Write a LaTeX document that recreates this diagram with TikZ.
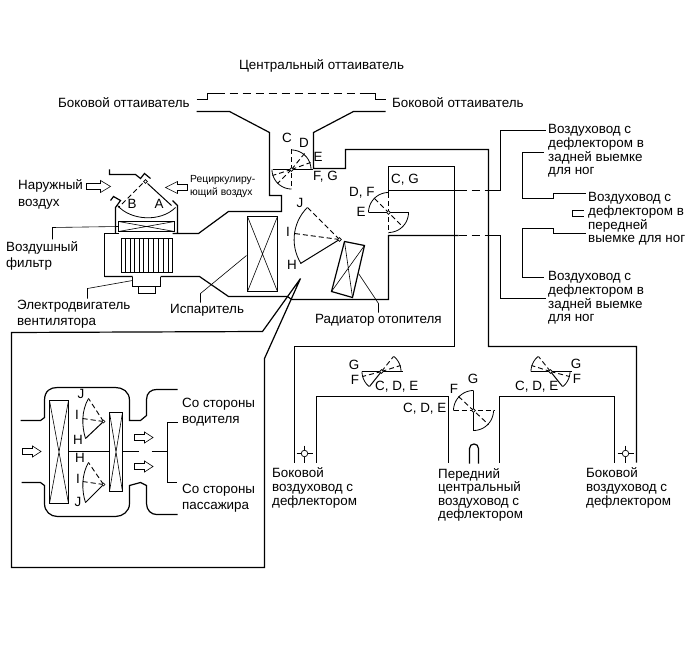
\documentclass[tikz,border=0pt]{standalone}
\usepackage{fontspec}
\setmainfont{Liberation Sans}
\tikzset{
  x=1pt,y=-1pt,
  wall/.style={draw=black,line width=1.2pt,line join=miter},
  thinline/.style={draw=black,line width=0.6pt},
  flap/.style={draw=black,line width=1pt},
  dashflap/.style={draw=black,line width=0.9pt,dash pattern=on 5pt off 3pt},
  duct dash/.style={draw=black,line width=1.2pt,dash pattern=on 8pt off 5pt},
  lbl/.style={inner sep=0pt,anchor=west,align=left,yshift=-1pt,font=\fontsize{13.4}{13.6}\selectfont},
  wide lbl/.style={lbl,font=\fontsize{13.4}{16.2}\selectfont},
  letter/.style={inner sep=0pt,anchor=center,yshift=-0.5pt,font=\fontsize{13.4}{13.6}\selectfont},
  small lbl/.style={inner sep=0pt,anchor=west,align=left,font=\fontsize{10.3}{12.5}\selectfont},
  pivot/.style={draw=black,fill=white,line width=0.7pt,circle,inner sep=0pt,minimum size=3.6pt},
}
% circular damper sweep: centre x, y, radius, start and end angle (clockwise on the page)
\newcommand{\sweep}[5]{\draw[thinline,line width=0.8pt] plot[domain=#4:#5,samples=16] ({#1+#3*cos(\x)},{#2+#3*sin(\x)});}
% outlined flow arrow pointing right from a tail point
\newcommand{\flowright}[2]{\draw[thinline] (#1,#2-3) -- ++(14,0) -- ++(0,-3) -- ++(10,6) -- ++(-10,6) -- ++(0,-3) -- ++(-14,0) -- cycle;}
\newcommand{\flowinset}[2]{\draw[thinline] (#1,#2-3) -- ++(10,0) -- ++(0,-2.5) -- ++(8.5,5.5) -- ++(-8.5,5.5) -- ++(0,-2.5) -- ++(-10,0) -- cycle;}
\begin{document}
\begin{tikzpicture}
\useasboundingbox (0,0) rectangle (690,660);
\fill[white] (0,0) rectangle (690,660);
\begin{scope}[shift={(0.5,0.5)}]

% ---- defroster outlets ----
\draw[wall] (196,99) -- (207,99) -- (207,93) -- (216,93);
\draw[duct dash] (216,93) -- (368,93);
\draw[wall] (367,93) -- (375,93) -- (375,99) -- (385,99);
\draw[wall] (196,111) -- (229,111) -- (269,132) -- (269,195) -- (281,195) -- (281,211) -- (228,211) -- (198,233) -- (172,233) (177,233) -- (177,205) -- (172,200);
\draw[wall] (385,111) -- (353,111) -- (313,132) -- (313,168) -- (345,168) -- (345,149) -- (488,149) -- (488,346) -- (636,346) -- (636,462);
\draw[wall] (388,195) -- (388,166) -- (454,166) -- (454,346) -- (294,346) -- (294,462);
\draw[wall] (316,462) -- (316,396) -- (448,396) -- (448,462);
\draw[wall] (499,462) -- (499,396) -- (614,396) -- (614,462);
\draw[wall] (104,276) -- (132,276) (160,276) -- (199,276) -- (228,296) -- (287,296) -- (291,299) -- (388,299) -- (388,235) -- (458,235);

% ---- floor duct branches ----
\draw[wall] (388,190) -- (458,190);
\draw[duct dash] (458,190) -- (488,190);
\draw[wall] (488,190) -- (500,190) -- (500,130) -- (545,130);
\draw[duct dash] (458,235) -- (488,235);
\draw[wall] (488,235) -- (500,235) -- (500,298) -- (545,298);
\draw[wall] (543,152) -- (522,152) -- (522,198) -- (553,198) -- (553,193) -- (585,193);
\draw[wall] (585,233) -- (553,233) -- (553,228) -- (522,228) -- (522,277) -- (543,277);
\draw[wall] (583,210) -- (572,210) -- (572,216) -- (583,216);

% ---- intake, filter and blower ----
\draw[wall] (109,169) -- (109,174) -- (135,174) -- (140,178) -- (144,173) -- (150,178);
\draw[wall] (110,200) -- (113,196) -- (120,200) -- (115,207) -- (115,233);
\draw[wall] (104,233) -- (118,233) (104,233) -- (104,276);
\draw[flap] (147,183) -- (171,205);
\draw[dashflap] (142,183) -- (118,207);
\draw[thinline,line width=0.8pt] (117,205) .. controls (130,220) and (160,222) .. (175,207);
\node[pivot] (intake) at (145,181) {};
\draw[wall] (118,221) rectangle (174,231);
\draw[thinline] (118,221) -- (174,231) (118,231) -- (174,221);
\draw[wall] (121,238) rectangle (172,272);
\foreach \v in {125,129.5,134,138.5,143,148,153,158,163,168}
  \draw[thinline] (\v,238) -- (\v,272);
\draw[wall] (132,276) -- (132,286) -- (138,286) -- (138,293) -- (155,293) -- (155,286) -- (160,286) -- (160,276);
\draw[wall] (132,286) -- (160,286);
\flowright{86}{186}
\draw[thinline] (187,184) -- (177,184) -- (177,181) -- (165,187) -- (177,193) -- (177,190) -- (187,190) -- cycle;

% ---- evaporator and heater core ----
\draw[wall] (247,216) rectangle (277,291);
\draw[thinline] (247,216) -- (277,291) (277,216) -- (247,291);
\draw[wall] (344,241) -- (364,245) -- (352,297) -- (331,291) -- cycle;
\draw[thinline] (344,241) -- (352,297) (364,245) -- (331,291);

% ---- leader lines ----
\draw[thinline] (52,239) -- (52,227) -- (118,226);
\draw[thinline] (87,298) -- (87,288) -- (132,280);
\draw[thinline] (200,302) -- (200,293) -- (246,255);
\draw[thinline] (358,273) -- (378,303) -- (378,312);

% ---- air mix damper ----
\draw[flap] (339,239) -- (300,263);
\draw[dashflap] (339,239) -- (307,207);
\draw[dashflap] (339,239) -- (294,233);
\sweep{339}{239}{45.4}{148}{225}
\node[pivot] (mix) at (339,239) {};

% ---- defroster damper ----
\draw[flap] (272,169) -- (312,169);
\draw[dashflap] (291,149) -- (291,188);
\draw[dashflap] (291,169) -- (304,153);
\draw[dashflap] (291,169) -- (310,162);
\draw[dashflap] (291,169) -- (272,175);
\draw[dashflap] (291,169) -- (277,183);
\sweep{291}{169}{19.5}{270}{360}
\sweep{291}{169}{19.5}{90}{180}
\node[pivot] (defrost) at (291,169) {};

% ---- foot damper ----
\draw[flap] (368,212) -- (408,212);
\draw[dashflap] (388,193) -- (388,233);
\draw[dashflap] (374,198) -- (402,226);
\sweep{388}{212}{20}{180}{270}
\sweep{388}{212}{20}{0}{90}
\node[pivot] (foot) at (388,212) {};

% ---- centre vent damper ----
\draw[flap] (473,390) -- (473,430);
\draw[dashflap] (453,410) -- (494,410);
\draw[dashflap] (458,396) -- (488,424);
\sweep{473}{410}{20}{180}{270}
\sweep{473}{410}{20}{0}{90}
\node[pivot] (centre) at (473,410) {};

% ---- side vent dampers ----
\draw[flap] (361,371) -- (402,371);
\draw[dashflap] (381,371) -- (393,356);
\draw[dashflap] (381,371) -- (400,365);
\draw[dashflap] (381,371) -- (362,376);
\draw[flap] (381,371) -- (369,386);
\sweep{381}{371}{19.5}{-50}{0}
\sweep{381}{371}{19.5}{130}{180}
\node[pivot] (sideL) at (381,371) {};
\draw[flap] (530,371) -- (571,371);
\draw[dashflap] (550,371) -- (538,356);
\draw[dashflap] (550,371) -- (531,365);
\draw[dashflap] (550,371) -- (569,376);
\draw[flap] (550,371) -- (562,386);
\sweep{550}{371}{19.5}{180}{230}
\sweep{550}{371}{19.5}{0}{50}
\node[pivot] (sideR) at (550,371) {};

% ---- vent outlets ----
\draw[thinline,line width=0.9pt] (296,453) -- (312,453) (304,445) -- (304,462);
\node[pivot,minimum size=6.5pt] (ventL) at (304,453) {};
\draw[thinline,line width=0.9pt] (617,453) -- (633,453) (625,445) -- (625,462);
\node[pivot,minimum size=6.5pt] (ventR) at (625,453) {};
\draw[wall] (469,463) -- (469,448) .. controls (469,442) and (478,442) .. (478,448) -- (478,463);

% ---- enlarged view ----
\draw[wall] (300,278) -- (262,331) -- (11,332) -- (11,567) -- (264,567) -- (264,358) -- (300,278);
\draw[wall] (20,420) -- (40,420) -- (44,417) -- (44,400) .. controls (44,390) and (50,387) .. (57,387) -- (115,387) .. controls (122,387) and (129,391) .. (129,400) -- (129,420) -- (140,420) -- (146,415) -- (146,399) .. controls (146,392) and (151,389) .. (156,389) -- (177,389);
\draw[wall] (21,482) -- (40,482) -- (44,485) -- (44,503) .. controls (44,511) and (50,516) .. (57,516) -- (115,516) .. controls (122,516) and (129,511) .. (129,503) -- (129,485) -- (140,482) -- (146,485) -- (146,503) .. controls (146,510) and (151,514) .. (156,514) -- (177,514);
\draw[wall] (49,400) rectangle (68,503);
\draw[thinline] (49,400) -- (68,503) (68,400) -- (49,503);
\draw[wall] (109,412) rectangle (122,491);
\draw[thinline] (109,412) -- (122,491) (122,412) -- (109,491);
\draw[wall] (68,451) -- (109,451) (122,451) -- (138,451) (151,451) -- (167,451);
\draw[wall] (177,422) -- (167,422) -- (167,482) -- (176,482);
\draw[flap] (103,421) -- (85,438);
\draw[dashflap] (103,421) -- (88,398);
\draw[dashflap] (103,421) -- (82,418);
\draw[thinline,line width=0.8pt] (88,398) .. controls (81,410) and (81,425) .. (85,438);
\node[pivot,minimum size=3pt,line width=0.6pt] (insetU) at (103,421) {};
\draw[flap] (103,484) -- (85,502);
\draw[dashflap] (103,484) -- (88,462);
\draw[dashflap] (103,484) -- (82,481);
\draw[thinline,line width=0.8pt] (88,462) .. controls (81,474) and (81,490) .. (85,502);
\node[pivot,minimum size=3pt,line width=0.6pt] (insetL) at (103,484) {};
\flowinset{22}{451}
\flowinset{134}{437}
\flowinset{134}{466}
\end{scope}

% ---- labels ----
\node[lbl,anchor=center] (centreDefrost) at (321.5,65) {Центральный оттаиватель};
\node[lbl] (sideDefrostL) at (58,102) {Боковой оттаиватель};
\node[lbl] (sideDefrostR) at (392,102) {Боковой оттаиватель};
\node[wide lbl] (outside) at (18,193.5) {Наружный\\воздух};
\node[small lbl] (recirc) at (190,186.5) {Рециркулиру-\\ющий воздух};
\node[wide lbl] (filter) at (6,255) {Воздушный\\фильтр};
\node[wide lbl] (motor) at (17,313.5) {Электродвигатель\\вентилятора};
\node[lbl] (evap) at (170,309) {Испаритель};
\node[lbl] (heater) at (315,319) {Радиатор отопителя};
\node[lbl] (rearFootA) at (548,150) {Воздуховод с\\дефлектором в\\задней выемке\\для ног};
\node[lbl] (frontFoot) at (588,218) {Воздуховод с\\дефлектором в\\передней\\выемке для ног};
\node[lbl] (rearFootB) at (548,297) {Воздуховод с\\дефлектором в\\задней выемке\\для ног};
\node[lbl] (sideVentL) at (272,487) {Боковой\\воздуховод с\\дефлектором};
\node[lbl] (centreVent) at (438,494) {Передний\\центральный\\воздуховод с\\дефлектором};
\node[lbl] (sideVentR) at (586,487) {Боковой\\воздуховод с\\дефлектором};
\node[wide lbl] (driver) at (182,411) {Со стороны\\водителя};
\node[wide lbl] (passenger) at (182,497.5) {Со стороны\\пассажира};

\node[letter] (lA) at (159,203) {A};
\node[letter] (lB) at (132,203) {B};
\node[letter] (lC) at (287,137) {C};
\node[letter] (lD) at (304,142) {D};
\node[letter] (lE) at (318,156) {E};
\node[lbl] (lFG) at (313,176) {F, G};
\node[lbl] (lCG) at (391,179) {C, G};
\node[lbl] (lDF) at (349,192) {D, F};
\node[letter] (lE2) at (361,211) {E};
\node[letter] (lJ) at (300,202) {J};
\node[letter] (lI) at (288,231) {I};
\node[letter] (lH) at (292,264) {H};
\node[letter] (lG1) at (354,364) {G};
\node[letter] (lF1) at (355,379) {F};
\node[lbl] (lCDE1) at (375,386) {C, D, E};
\node[lbl] (lCDE2) at (403,408) {C, D, E};
\node[letter] (lG2) at (473,378) {G};
\node[letter] (lF2) at (454,388) {F};
\node[lbl] (lCDE3) at (515,386) {C, D, E};
\node[letter] (lG3) at (576,363) {G};
\node[letter] (lF3) at (577,378) {F};
\node[letter] (iJ1) at (81,393) {J};
\node[letter] (iI1) at (77,414) {I};
\node[letter] (iH1) at (78,439) {H};
\node[letter] (iH2) at (80,457) {H};
\node[letter] (iI2) at (78,478) {I};
\node[letter] (iJ2) at (78,501) {J};
\end{tikzpicture}
\end{document}
